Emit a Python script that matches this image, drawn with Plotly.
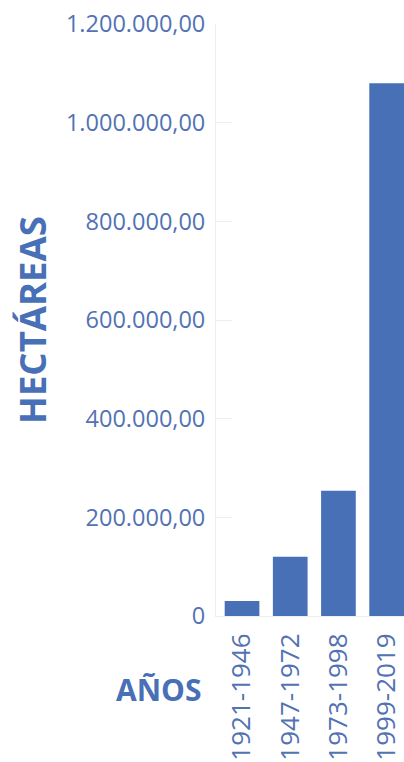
import plotly.graph_objects as go

categories = ["1921-1946", "1947-1972", "1973-1998", "1999-2019"]
hectareas = [30500, 120000, 254000, 1080000]
tick_vals = [0, 200000, 400000, 600000, 800000, 1000000, 1200000]
tick_text = ["0", "200.000,00", "400.000,00", "600.000,00", "800.000,00", "1.000.000,00", "1.200.000,00"]

BLUE = "#4870b6"
LABEL = "#5272b4"
FONT = "Open Sans"

fig = go.Figure()
fig.add_trace(go.Bar(x=list(range(len(categories))), y=hectareas, marker=dict(color=BLUE, line=dict(width=0))))

fig.update_layout(
    width=404, height=762,
    margin=dict(l=216, r=0, t=24, b=146, autoexpand=False),
    paper_bgcolor="white", plot_bgcolor="white",
    bargap=0.28,
    showlegend=False,
    font=dict(family=FONT, color=LABEL),
    xaxis=dict(
        range=[-0.54, 3.36], automargin=False,
        tickmode="array", tickvals=list(range(len(categories))), ticktext=categories,
        tickangle=-90, tickfont=dict(size=26, color=LABEL, family=FONT),
        showgrid=False, zeroline=False,
        showline=True, linecolor="#eeeeee", linewidth=1,
        ticks="", ticklabelstandoff=6,
    ),
    yaxis=dict(
        range=[0, 1200000], automargin=False,
        tickmode="array", tickvals=tick_vals, ticktext=tick_text,
        tickfont=dict(size=23.5, color=LABEL, family=FONT),
        showgrid=False, zeroline=False,
        showline=True, linecolor="#eeeeee", linewidth=1,
        ticks="inside", ticklen=16, tickcolor="#eeeeee",
        ticklabelstandoff=5,
    ),
    annotations=[
        dict(text="<b>HECTÁREAS</b>", xref="paper", yref="paper", x=0, y=0.5,
             xanchor="center", yanchor="middle", textangle=-90, showarrow=False,
             font=dict(size=36.5, color=BLUE, family=FONT), xshift=-184),
        dict(text="<b>AÑOS</b>", xref="paper", yref="paper", x=0, y=0,
             xanchor="right", yanchor="middle", showarrow=False,
             font=dict(size=30, color=BLUE, family=FONT), xshift=-12, yshift=-73),
    ],
)

fig.write_html("out.html", config={"displayModeBar": False},
               post_script="document.body.style.margin='0';document.body.style.overflow='hidden';")
